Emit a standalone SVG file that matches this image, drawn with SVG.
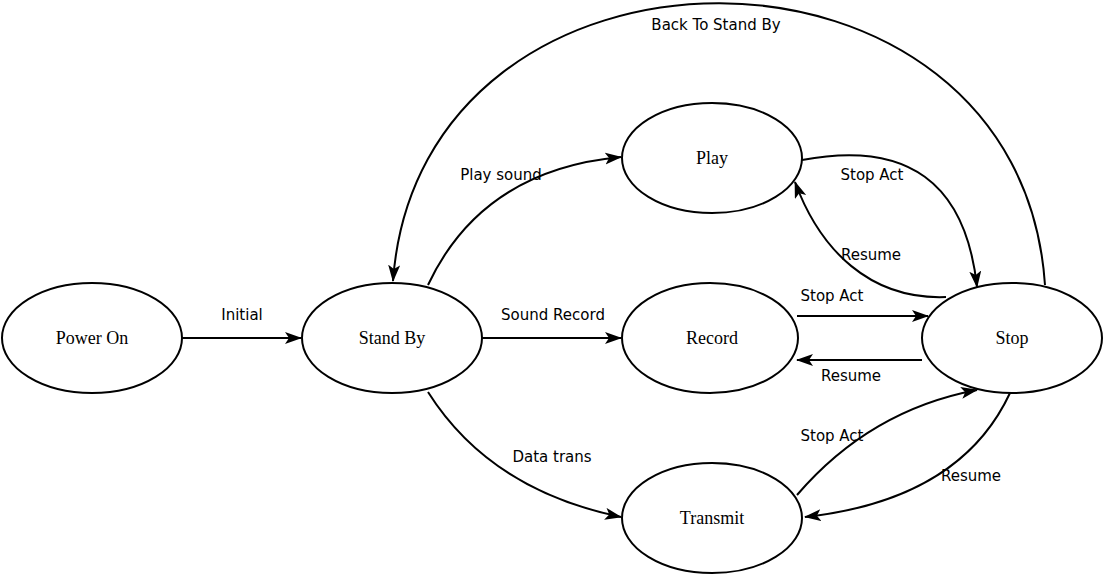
<svg xmlns="http://www.w3.org/2000/svg" width="1105" height="578" viewBox="0 0 1105 578">
<style>
.node ellipse{fill:#fff;stroke:#000;stroke-width:2}
.node text{font-family:"Liberation Serif",serif;font-size:18px;fill:#000;text-anchor:middle;dominant-baseline:central}
.edges path{fill:none;stroke:#000;stroke-width:2;marker-end:url(#arr)}
.lbl{font-family:"DejaVu Sans",sans-serif;font-size:15px;fill:#000;text-anchor:middle;dominant-baseline:central}
</style>
<defs>
<marker id="arr" markerUnits="userSpaceOnUse" markerWidth="18" markerHeight="13" refX="16" refY="6" orient="auto">
<path d="M0,0 L17,6 L0,12 L4,6 Z" fill="#000"/>
</marker>
</defs>
<rect width="1105" height="578" fill="#fff"/>
<g class="edges">
<path d="M182,338 L301,338"/>
<path d="M482,338 L621,338"/>
<path d="M428,285 Q482,170 621,157"/>
<path d="M428,392 Q490,490 621,517"/>
<path d="M1045,285 C1020,-90 420,-90 393,281"/>
<path d="M802,160 Q960,130 977,287"/>
<path d="M946,297 C870,300 820,250 795,182"/>
<path d="M797,316 L928,316"/>
<path d="M922,360 L797,360"/>
<path d="M797,495 Q870,410 977,390"/>
<path d="M1010,393 Q960,500 805,517"/>
</g>
<g class="labels">
<text class="lbl" x="242" y="315">Initial</text>
<text class="lbl" x="553" y="315">Sound Record</text>
<text class="lbl" x="501" y="175">Play sound</text>
<text class="lbl" x="552" y="457">Data trans</text>
<text class="lbl" x="716" y="25">Back To Stand By</text>
<text class="lbl" x="872" y="175">Stop Act</text>
<text class="lbl" x="871" y="255">Resume</text>
<text class="lbl" x="832" y="296">Stop Act</text>
<text class="lbl" x="851" y="376">Resume</text>
<text class="lbl" x="832" y="436">Stop Act</text>
<text class="lbl" x="971" y="476">Resume</text>
</g>
<g id="power-on" class="node"><ellipse cx="92" cy="338" rx="90" ry="55"/><text x="92" y="338">Power On</text></g>
<g id="stand-by" class="node"><ellipse cx="392" cy="338" rx="90" ry="55"/><text x="392" y="338">Stand By</text></g>
<g id="play" class="node"><ellipse cx="712" cy="158" rx="90" ry="55"/><text x="712" y="158">Play</text></g>
<g id="record" class="node"><ellipse cx="710" cy="338" rx="88" ry="55"/><text x="712" y="338">Record</text></g>
<g id="transmit" class="node"><ellipse cx="712" cy="518" rx="90" ry="55"/><text x="712" y="518">Transmit</text></g>
<g id="stop" class="node"><ellipse cx="1012" cy="338" rx="90" ry="55"/><text x="1012" y="338">Stop</text></g>
</svg>
